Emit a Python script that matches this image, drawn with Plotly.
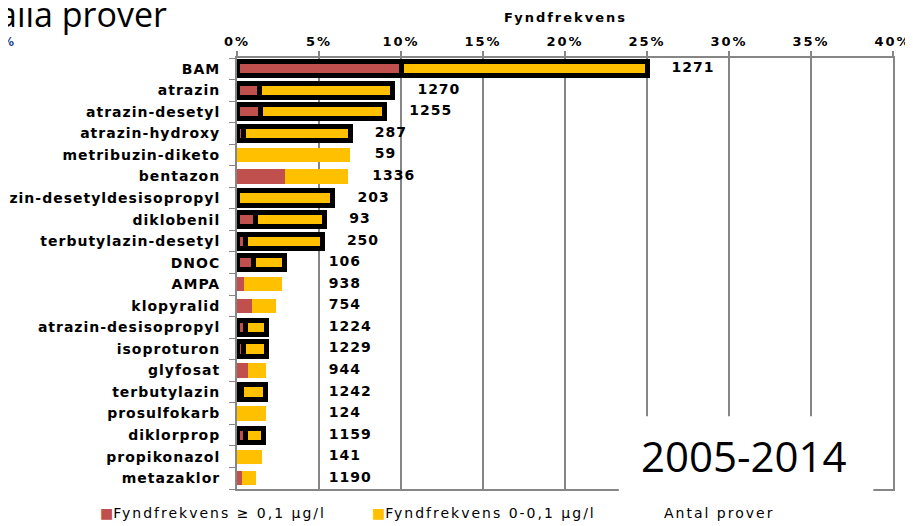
import plotly.graph_objects as go

# Substances, top to bottom
substances = [
    "BAM", "atrazin", "atrazin-desetyl", "atrazin-hydroxy", "metribuzin-diketo",
    "bentazon", "atrazin-desetyldesisopropyl", "diklobenil", "terbutylazin-desetyl",
    "DNOC", "AMPA", "klopyralid", "atrazin-desisopropyl", "isoproturon", "glyfosat",
    "terbutylazin", "prosulfokarb", "diklorprop", "propikonazol", "metazaklor",
]
# Fyndfrekvens >= 0,1 ug/l (%)
fynd_over = [10.0, 1.4, 1.45, 0.4, 0.0, 2.9, 0.0, 1.15, 0.5, 1.0,
             0.4, 0.9, 0.5, 0.4, 0.67, 0.3, 0.0, 0.5, 0.0, 0.3]
# Fyndfrekvens 0-0,1 ug/l (%)
fynd_under = [15.0, 8.1, 7.55, 6.5, 6.9, 3.85, 5.85, 4.2, 4.7, 1.9,
              2.35, 1.5, 1.3, 1.4, 1.1, 1.45, 1.77, 1.1, 1.5, 0.85]
antal_prover = [1271, 1270, 1255, 287, 59, 1336, 203, 93, 250, 106,
                938, 754, 1224, 1229, 944, 1242, 124, 1159, 141, 1190]
# substances highlighted with a black frame
markerad = [1, 1, 1, 1, 0, 0, 1, 1, 1, 1, 0, 0, 1, 1, 0, 1, 0, 1, 0, 0]

x_ticks = [0, 5, 10, 15, 20, 25, 30, 35, 40]
x_ticklabels = ["0%", "5%", "10%", "15%", "20%", "25%", "30%", "35%", "40%"]

RED = "#C0504D"
YELLOW = "#FFC000"
GRID = "#868686"
FONT = "DejaVu Sans"


def wide(s, sp=1):
    # the pasted chart is stretched sideways, so space the letters out a bit
    return "<span style='letter-spacing:%spx'>%s</span>" % (sp, s)


line_w = [5 if m else 0 for m in markerad]
totals = [a + b for a, b in zip(fynd_over, fynd_under)]
label_x = [max(t + 1.5, 5.6) for t in totals]

fig = go.Figure()
fig.add_trace(go.Bar(
    y=substances, x=fynd_over, orientation="h", name="Fyndfrekvens ≥ 0,1 µg/l",
    marker=dict(color=RED, line=dict(color="black", width=line_w)),
    width=0.66,
))
fig.add_trace(go.Bar(
    y=substances, x=fynd_under, orientation="h", name="Fyndfrekvens 0-0,1 µg/l",
    marker=dict(color=YELLOW, line=dict(color="black", width=line_w)),
    width=0.66,
))
fig.add_trace(go.Scatter(
    y=substances, x=label_x, mode="text", name="Antal prover",
    text=[wide(n, 1) for n in antal_prover], textposition="middle right",
    textfont=dict(family=FONT, size=14, color="black", weight="bold"),
    cliponaxis=False,
))

# white box behind the period label
fig.add_shape(type="rect", xref="paper", yref="paper",
              x0=0.582, x1=0.970, y0=-0.02, y1=0.169,
              fillcolor="white", line=dict(width=0), layer="above")

leg_font = dict(family=FONT, size=14, color="black")
annotations = [
    dict(text="2005-2014", x=0.773, y=0.077, xref="paper", yref="paper",
         xanchor="center", yanchor="middle", showarrow=False,
         font=dict(family="Open Sans", size=42, color="black")),
    dict(text=wide("Fyndfrekvens", 2), x=0.5, y=1.095, xref="paper", yref="paper",
         xanchor="center", yanchor="middle", showarrow=False,
         font=dict(family=FONT, size=13, color="black", weight="bold")),
    dict(text="alla prover", x=-0.1037, y=1.102, xref="paper", yref="paper",
         xanchor="right", yanchor="middle", showarrow=False,
         font=dict(family="Open Sans", size=34, color="black")),
    dict(text="%", x=-0.361, y=1.036, xref="paper", yref="paper",
         xanchor="left", yanchor="middle", showarrow=False,
         font=dict(family=FONT, size=12, color="#1F3F8F", weight="bold")),
    # legend
    dict(text="<span style='color:%s'>■</span>" % RED + wide("Fyndfrekvens ≥ 0,1 µg/l", 2),
         x=-0.212, y=-0.056, xref="paper", yref="paper", xanchor="left", yanchor="middle",
         showarrow=False, font=leg_font),
    dict(text="<span style='color:%s'>■</span>" % YELLOW + wide("Fyndfrekvens 0-0,1 µg/l", 2),
         x=0.203, y=-0.056, xref="paper", yref="paper", xanchor="left", yanchor="middle",
         showarrow=False, font=leg_font),
    dict(text=wide("Antal prover", 2), x=0.648, y=-0.056, xref="paper", yref="paper",
         xanchor="left", yanchor="middle", showarrow=False, font=leg_font),
]

fig.update_layout(
    barmode="stack",
    width=913, height=526,
    # the page body adds 8px on the left and top, so the margins are taken in by that
    margin=dict(l=229, r=28, t=50, b=45),
    plot_bgcolor="white", paper_bgcolor="white",
    showlegend=False,
    annotations=annotations,
    xaxis=dict(
        side="top", range=[0, 40],
        tickmode="array", tickvals=x_ticks, ticktext=[wide(t, 2) for t in x_ticklabels],
        showgrid=True, gridcolor=GRID, gridwidth=2,
        showline=True, linecolor=GRID, linewidth=2, mirror=True,
        ticks="outside", ticklen=5, tickcolor=GRID, tickwidth=1.5,
        zeroline=False, automargin=False,
        tickfont=dict(family=FONT, size=13, color="black", weight="bold"),
    ),
    yaxis=dict(
        type="category", range=[19.5, -0.5], autorange=False,
        tickmode="array", tickvals=substances, ticktext=[wide(s, 1) for s in substances],
        showline=True, linecolor=GRID, linewidth=2, mirror=True,
        ticks="outside", ticklen=6, tickcolor=GRID, tickson="boundaries",
        showgrid=False, automargin=False, ticklabelstandoff=12,
        tickfont=dict(family=FONT, size=14, color="black", weight="bold"),
    ),
)

fig.write_html("out.html")
